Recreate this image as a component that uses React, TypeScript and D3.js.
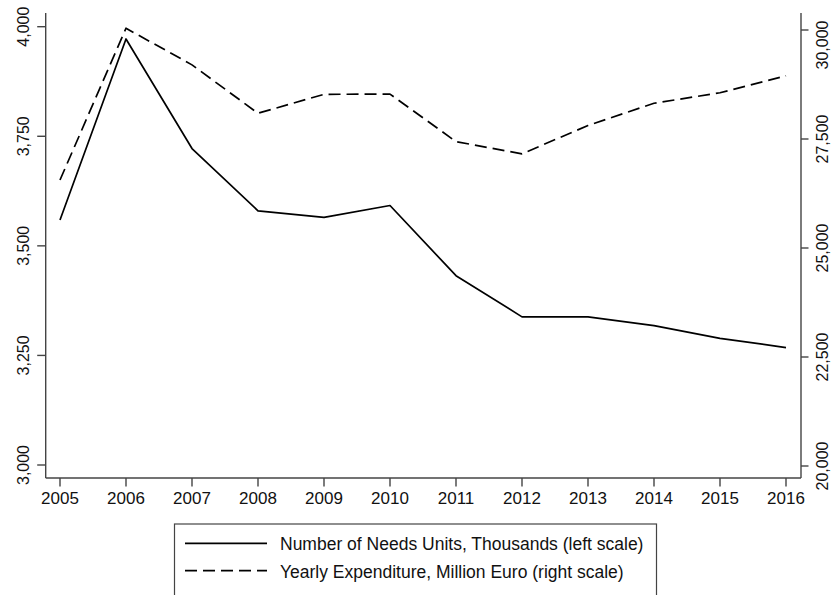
import React from "react";
import * as d3 from "d3";

const years = [2005, 2006, 2007, 2008, 2009, 2010, 2011, 2012, 2013, 2014, 2015, 2016];
const needsUnits = [3559, 3972, 3722, 3580, 3565, 3592, 3432, 3338, 3338, 3318, 3289, 3268];
const expenditure = [26560, 30040, 29200, 28090, 28525, 28530, 27440, 27160, 27810, 28320, 28560, 28950];
const leftTicks = [3000, 3250, 3500, 3750, 4000];
const rightTicks = [20000, 22500, 25000, 27500, 30000];
const legendLabels = [
  "Number of Needs Units, Thousands (left scale)",
  "Yearly Expenditure, Million Euro (right scale)",
];

const W = 831;
const H = 595;
const plotLeft = 45.7;
const plotRight = 801;
const plotTop = 13;
const plotBottom = 478;
const font = "'Liberation Sans', Arial, Helvetica, sans-serif";
const axisColor = "#444";
const textColor = "#111";

export default function App() {
  const x = d3.scaleLinear().domain([2005, 2016]).range([60, 786]);
  const yL = d3.scaleLinear().domain([3000, 4000]).range([465, 26.7]);
  const yR = d3.scaleLinear().domain([20000, 30000]).range([466, 30]);

  const lineL = d3
    .line<number>()
    .x((_, i) => x(years[i]))
    .y((d) => yL(d));
  const lineR = d3
    .line<number>()
    .x((_, i) => x(years[i]))
    .y((d) => yR(d));

  const fmt = d3.format(",");

  return (
    <svg
      width={W}
      height={H}
      style={{ position: "absolute", left: 0, top: 0, background: "#fff" }}
      fontFamily={font}
    >
      <rect x={0} y={0} width={W} height={H} fill="#fff" />
      {/* axis lines */}
      <line x1={plotLeft} x2={plotLeft} y1={plotTop} y2={plotBottom} stroke={axisColor} strokeWidth={1.4} />
      <line x1={plotRight} x2={plotRight} y1={plotTop} y2={plotBottom} stroke={axisColor} strokeWidth={1.4} />
      <line x1={plotLeft} x2={plotRight} y1={plotBottom} y2={plotBottom} stroke={axisColor} strokeWidth={1.4} />

      {/* left ticks */}
      {leftTicks.map((t) => (
        <g key={"l" + t}>
          <line x1={plotLeft - 8.5} x2={plotLeft} y1={yL(t)} y2={yL(t)} stroke={axisColor} strokeWidth={1.4} />
          <text
            transform={`translate(${29},${yL(t)}) rotate(-90)`}
            textAnchor="middle"
            fontSize={16}
            fill={textColor}
          >
            {fmt(t)}
          </text>
        </g>
      ))}

      {/* right ticks */}
      {rightTicks.map((t) => (
        <g key={"r" + t}>
          <line x1={plotRight} x2={plotRight + 7.5} y1={yR(t)} y2={yR(t)} stroke={axisColor} strokeWidth={1.4} />
          <text
            transform={`translate(${828},${Math.max(yR(t), 45)}) rotate(-90)`}
            textAnchor="middle"
            fontSize={16}
            fill={textColor}
          >
            {fmt(t)}
          </text>
        </g>
      ))}

      {/* x ticks */}
      {years.map((yv) => (
        <g key={"x" + yv}>
          <line x1={x(yv)} x2={x(yv)} y1={plotBottom} y2={plotBottom + 8.5} stroke={axisColor} strokeWidth={1.4} />
          <text x={x(yv)} y={503.5} textAnchor="middle" fontSize={17} fill={textColor}>
            {yv}
          </text>
        </g>
      ))}

      {/* data lines */}
      <path d={lineL(needsUnits) || ""} fill="none" stroke="#000" strokeWidth={1.7} strokeLinejoin="round" />
      <path
        d={lineR(expenditure) || ""}
        fill="none"
        stroke="#000"
        strokeWidth={1.7}
        strokeDasharray="12,6"
        strokeLinejoin="round"
      />

      {/* legend */}
      <rect x={174.5} y={524} width={482} height={74} fill="#fff" stroke={axisColor} strokeWidth={1.2} />
      <line x1={185} x2={267} y1={543.3} y2={543.3} stroke="#000" strokeWidth={1.7} />
      <line x1={185} x2={267} y1={570.7} y2={570.7} stroke="#000" strokeWidth={1.7} strokeDasharray="12,6" />
      <text x={280} y={550} fontSize={17.5} fill={textColor}>
        {legendLabels[0]}
      </text>
      <text x={280} y={577.5} fontSize={17.5} fill={textColor}>
        {legendLabels[1]}
      </text>
    </svg>
  );
}
